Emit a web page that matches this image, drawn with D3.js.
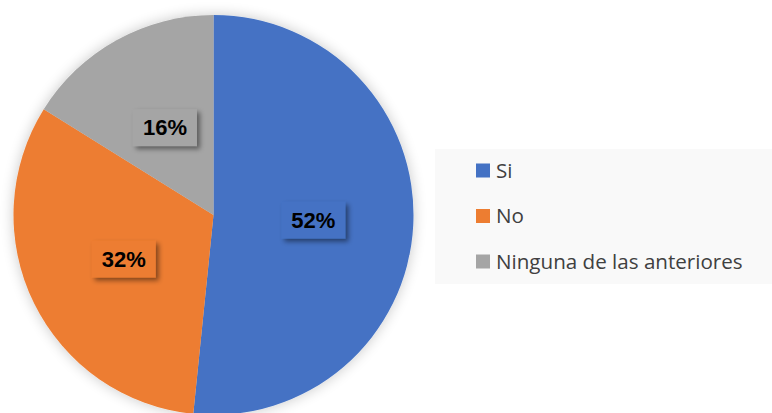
<!DOCTYPE html>
<html>
<head>
<meta charset="utf-8">
<script src="https://cdn.jsdelivr.net/npm/d3@7"></script>
<style>
  body { margin: 0; background: #ffffff; }
  svg { display: block; }
</style>
</head>
<body>
<svg width="772" height="413"></svg>
<script>
// chart data
var categories = ["Si", "No", "Ninguna de las anteriores"];
var counts = [16, 10, 5];
var colors = ["#4472C4", "#ED7D31", "#A5A5A5"];

window.onload = function() {
    makeChart();
}

function makeChart() {
    var svg = d3.select("svg");

    var cx = 213.5, cy = 215, radius = 200;
    var total = d3.sum(counts);

    var data = categories.map(function (c, i) {
        return { name: c, value: counts[i], color: colors[i] };
    });

    // filters: soft glow round the pie, drop shadow for labels
    var defs = svg.append("defs");
    var glow = defs.append("filter").attr("id", "glow")
        .attr("x", "-20%").attr("y", "-20%").attr("width", "140%").attr("height", "140%");
    glow.append("feGaussianBlur").attr("in", "SourceAlpha").attr("stdDeviation", 7).attr("result", "b");
    glow.append("feComponentTransfer").attr("in", "b").attr("result", "b2")
        .append("feFuncA").attr("type", "linear").attr("slope", 0.22);
    var m = glow.append("feMerge");
    m.append("feMergeNode").attr("in", "b2");
    m.append("feMergeNode").attr("in", "SourceGraphic");

    var shadow = defs.append("filter").attr("id", "shadow")
        .attr("x", "-30%").attr("y", "-30%").attr("width", "160%").attr("height", "160%");
    shadow.append("feDropShadow").attr("dx", 3).attr("dy", 3)
        .attr("stdDeviation", 2.5).attr("flood-color", "#000").attr("flood-opacity", 0.45);

    // legend background
    svg.append("rect")
        .attr("x", 435).attr("y", 149)
        .attr("width", 337).attr("height", 135)
        .attr("fill", "#f9f9f9");

    var g = svg.append("g")
        .attr("transform", "translate(" + cx + "," + cy + ")");

    var pie = d3.pie()
        .value(function (d) { return d.value; })
        .sort(null);

    var arc = d3.arc()
        .innerRadius(0)
        .outerRadius(radius);

    var arcs = pie(data);

    var slices = g.append("g").attr("filter", "url(#glow)");
    slices.selectAll("path")
        .data(arcs)
        .enter().append("path")
        .attr("d", arc)
        .attr("fill", function (d) { return d.data.color; });

    // percentage labels in boxes
    var labels = g.selectAll(".label")
        .data(arcs)
        .enter().append("g")
        .attr("class", "label")
        .attr("transform", function (d) {
            var c = arc.centroid(d);
            return "translate(" + c[0] + "," + c[1] + ")";
        });

    labels.append("rect")
        .attr("x", -32).attr("y", -18.5)
        .attr("width", 64).attr("height", 37)
        .attr("fill", function (d) { return d.data.color; })
        .attr("filter", "url(#shadow)");

    labels.append("text")
        .attr("text-anchor", "middle")
        .attr("dy", "0.36em")
        .style("font-family", "'Liberation Sans', Arial, sans-serif")
        .style("font-weight", "bold")
        .style("font-size", "22px")
        .attr("fill", "#000")
        .text(function (d) { return Math.round(d.data.value / total * 100) + "%"; });

    // legend
    var legendY = d3.scalePoint()
        .domain(categories)
        .range([170.5, 261.5]);

    var legend = svg.selectAll(".legend")
        .data(data)
        .enter().append("g")
        .attr("class", "legend")
        .attr("transform", function (d) { return "translate(476," + legendY(d.name) + ")"; });

    legend.append("rect")
        .attr("x", 0).attr("y", -7)
        .attr("width", 14).attr("height", 14)
        .attr("fill", function (d) { return d.color; });

    legend.append("text")
        .attr("x", 20)
        .attr("dy", "0.36em")
        .style("font-family", "'Open Sans', sans-serif")
        .style("font-size", "20.6px")
        .attr("fill", "#404040")
        .text(function (d) { return d.name; });
}
</script>
</body>
</html>
